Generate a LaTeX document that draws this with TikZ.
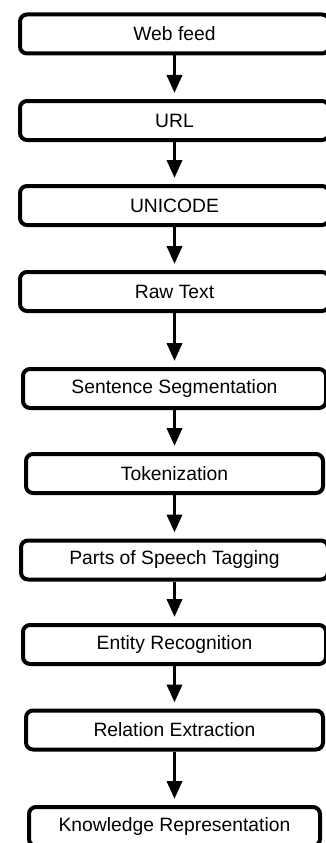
\documentclass[tikz,border=0pt]{standalone}
\usepackage{fontspec}
\setmainfont{Liberation Sans}
\usetikzlibrary{arrows.meta}

\tikzset{
  stage/.style={draw=black, line width=4pt, rounded corners=7pt, fill=white,
    minimum height=39pt, inner sep=0pt,
    font=\fontsize{19.3}{23}\selectfont},
  flow/.style={draw=black, line width=3.6pt,
    -{Triangle[width=15pt,length=18pt]}, shorten >=6pt}
}

\begin{document}
\begin{tikzpicture}[x=1pt, y=-1pt]
  \useasboundingbox (0,0) rectangle (325,843);

  % pipeline stages, top to bottom
  \node[stage, minimum width=309pt] (feed)    at (174.5, 34)    {Web feed};
  \node[stage, minimum width=309pt] (url)     at (174.5, 120.5) {URL};
  \node[stage, minimum width=309pt] (uni)     at (174.5, 205.5) {UNICODE};
  \node[stage, minimum width=309pt] (raw)     at (174.5, 291.5) {Raw Text};
  \node[stage, minimum width=303pt] (sent)    at (174.5, 388.5) {Sentence Segmentation};
  \node[stage, minimum width=297pt] (tok)     at (174.5, 473.5) {Tokenization};
  \node[stage, minimum width=307pt] (pos)     at (174.5, 560)   {Parts of Speech Tagging};
  \node[stage, minimum width=303pt] (ent)     at (174.5, 644.5) {Entity Recognition};
  \node[stage, minimum width=297pt] (rel)     at (174.5, 730)   {Relation Extraction};
  \node[stage, minimum width=291pt] (know)    at (174.5, 826.5) {Knowledge Representation};

  % connectors
  \draw[flow] (feed.south) -- (url.north);
  \draw[flow] (url.south)  -- (uni.north);
  \draw[flow] (uni.south)  -- (raw.north);
  \draw[flow] (raw.south)  -- (sent.north);
  \draw[flow] (sent.south) -- (tok.north);
  \draw[flow] (tok.south)  -- (pos.north);
  \draw[flow] (pos.south)  -- (ent.north);
  \draw[flow] (ent.south)  -- (rel.north);
  \draw[flow] (rel.south)  -- (know.north);
\end{tikzpicture}
\end{document}
